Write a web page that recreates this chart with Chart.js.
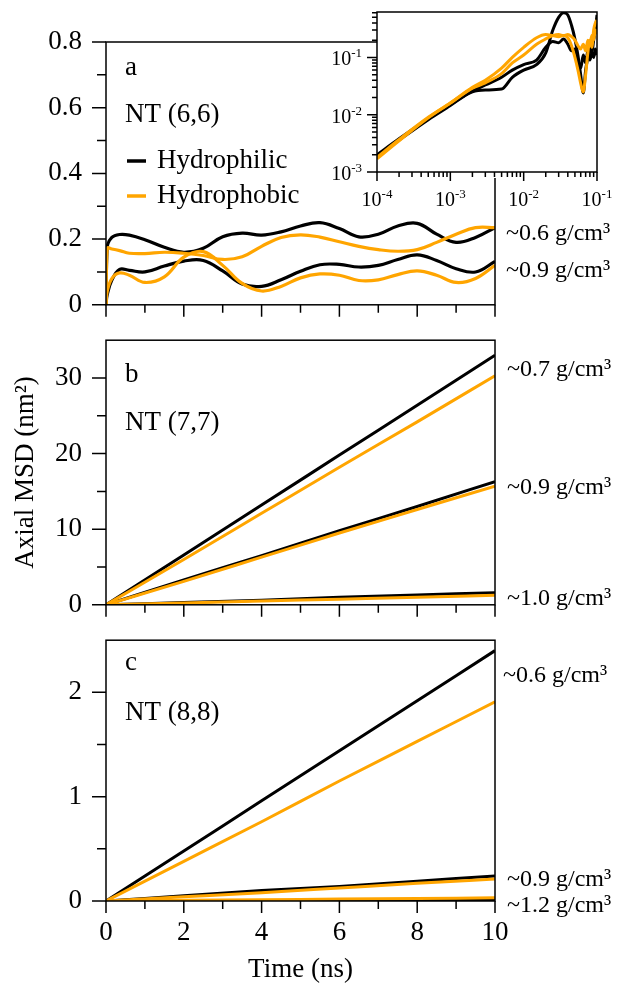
<!DOCTYPE html>
<html>
<head>
<meta charset="utf-8">
<script src="https://cdn.jsdelivr.net/npm/chart.js@4.4.1/dist/chart.umd.min.js"></script>
<style>
  html, body { margin: 0; padding: 0; background: #fff; }
  #wrap { position: relative; width: 617px; height: 983px; overflow: hidden; }
  canvas { position: absolute; }
</style>
</head>
<body>
<div id="wrap">
  <canvas id="panelA" width="617" height="345" style="left:0;top:0"></canvas>
  <canvas id="panelB" width="617" height="345" style="left:0;top:300px"></canvas>
  <canvas id="panelC" width="617" height="383" style="left:0;top:600px"></canvas>
  <canvas id="inset" width="317" height="235" style="left:300px;top:-20px"></canvas>
</div>
<script>
// series names and density labels
const seriesNames = ['Hydrophilic', 'Hydrophobic'];
const densityA = ['~0.6 g/cm³', '~0.9 g/cm³'];
const densityB = ['~0.7 g/cm³', '~0.9 g/cm³', '~1.0 g/cm³'];
const densityC = ['~0.6 g/cm³', '~0.9 g/cm³', '~1.2 g/cm³'];

// panel a: NT (6,6), time in ns
const timeA = [0, 0.03, 0.15, 0.35, 0.6, 1.0, 1.5, 2.0, 2.5, 3.0, 3.5, 4.0, 4.5, 5.0, 5.5, 6.0, 6.5, 7.0, 7.5, 8.0, 8.5, 9.0, 9.5, 10];
const philicA06 = [0, 0.175, 0.205, 0.214, 0.212, 0.198, 0.175, 0.16, 0.172, 0.207, 0.218, 0.212, 0.222, 0.24, 0.25, 0.232, 0.207, 0.215, 0.24, 0.248, 0.215, 0.19, 0.205, 0.235];
const phobicA06 = [0, 0.172, 0.17, 0.165, 0.157, 0.156, 0.16, 0.157, 0.15, 0.138, 0.146, 0.178, 0.205, 0.213, 0.206, 0.192, 0.178, 0.168, 0.163, 0.168, 0.19, 0.215, 0.235, 0.235];
const philicA09 = [0, 0.03, 0.075, 0.108, 0.105, 0.10, 0.118, 0.133, 0.135, 0.103, 0.063, 0.056, 0.076, 0.102, 0.122, 0.123, 0.115, 0.12, 0.138, 0.152, 0.135, 0.11, 0.1, 0.132];
const phobicA09 = [0, 0.04, 0.08, 0.097, 0.09, 0.068, 0.085, 0.145, 0.162, 0.12, 0.065, 0.042, 0.056, 0.082, 0.094, 0.09, 0.074, 0.076, 0.092, 0.103, 0.09, 0.068, 0.08, 0.12];

// panels b and c
const timeBC = [0, 2, 4, 6, 8, 10];
const philicB07 = [0, 6.6, 13.2, 19.8, 26.4, 33.0];
const phobicB07 = [0, 6.0, 12.1, 18.2, 24.2, 30.3];
const philicB09 = [0, 3.3, 6.5, 9.8, 13.0, 16.3];
const phobicB09 = [0, 3.1, 6.3, 9.5, 12.6, 15.7];
const philicB10 = [0, 0.3, 0.6, 1.0, 1.3, 1.6];
const phobicB10 = [0, 0.25, 0.5, 0.75, 1.0, 1.26];

const philicC06 = [0, 0.48, 0.96, 1.44, 1.92, 2.40];
const phobicC06 = [0, 0.38, 0.76, 1.15, 1.53, 1.91];
const philicC09 = [0, 0.05, 0.1, 0.14, 0.19, 0.24];
const phobicC09 = [0, 0.04, 0.08, 0.125, 0.17, 0.21];
const philicC12 = [0, 0.001, 0.002, 0.004, 0.005, 0.006];
const phobicC12 = [0, 0.006, 0.012, 0.018, 0.024, 0.03];

// inset: log-log, short times
const insetTime = [1e-4, 2e-4, 5e-4, 1e-3, 2e-3, 3e-3, 5e-3, 7e-3, 1e-2, 1.5e-2, 2e-2, 2.5e-2, 3e-2, 3.5e-2, 4e-2, 4.5e-2, 5e-2, 5.5e-2, 6e-2, 6.5e-2, 7e-2, 7.5e-2, 8e-2, 8.5e-2, 9e-2, 9.5e-2, 1e-1];
const insetPhilic1 = [0.002, 0.0038, 0.0085, 0.015, 0.025, 0.027, 0.028, 0.045, 0.06, 0.075, 0.12, 0.3, 0.5, 0.6, 0.55, 0.36, 0.21, 0.108, 0.049, 0.024, 0.06, 0.1, 0.15, 0.12, 0.2, 0.3, 0.55];
const insetPhilic2 = [0.0019, 0.0036, 0.0082, 0.0145, 0.026, 0.033, 0.045, 0.06, 0.075, 0.09, 0.15, 0.19, 0.18, 0.21, 0.17, 0.13, 0.14, 0.09, 0.065, 0.11, 0.08, 0.13, 0.09, 0.12, 0.1, 0.14, 0.11];
const insetPhobic1 = [0.0017, 0.0035, 0.0088, 0.016, 0.03, 0.04, 0.065, 0.1, 0.15, 0.22, 0.25, 0.24, 0.23, 0.24, 0.22, 0.16, 0.1, 0.06, 0.035, 0.025, 0.05, 0.12, 0.2, 0.15, 0.3, 0.4, 0.45];
const insetPhobic2 = [0.0018, 0.0037, 0.009, 0.016, 0.029, 0.036, 0.052, 0.08, 0.11, 0.17, 0.21, 0.24, 0.25, 0.24, 0.25, 0.23, 0.2, 0.16, 0.14, 0.17, 0.13, 0.2, 0.17, 0.24, 0.2, 0.3, 0.26];

const serif = '"Liberation Serif", "Times New Roman", serif';
const BLACK = '#000000';
const ORANGE = '#ffa500';

Chart.defaults.font.family = serif;
Chart.defaults.font.size = 27;
Chart.defaults.color = '#000';

function pairs(xs, ys) {
    return xs.map((x, i) => ({ x: x, y: ys[i] }));
}

function line(label, color, xs, ys, width, smooth) {
    const ds = {
        label: label,
        data: pairs(xs, ys),
        borderColor: color,
        borderWidth: width || 3,
        pointRadius: 0,
        fill: false
    };
    if (smooth) {
        ds.tension = smooth;
    } else {
        ds.cubicInterpolationMode = 'monotone';
    }
    return ds;
}

// box around the plot area plus outward major/minor ticks
const frame = {
    id: 'frame',
    afterDatasetsDraw(chart, args, o) {
        const { ctx, chartArea: a, scales } = chart;
        ctx.save();
        ctx.strokeStyle = '#000';
        ctx.lineWidth = 1.5;
        ctx.strokeRect(a.left, a.top, a.right - a.left, a.bottom - a.top);
        ctx.beginPath();
        const xTicks = (vals, len) => vals.forEach(v => {
            const p = scales.x.getPixelForValue(v);
            ctx.moveTo(p, a.bottom);
            ctx.lineTo(p, a.bottom + len);
        });
        const yTicks = (vals, len) => vals.forEach(v => {
            const p = scales.y.getPixelForValue(v);
            ctx.moveTo(a.left, p);
            ctx.lineTo(a.left - len, p);
        });
        xTicks(o.xMajor, o.xLen[0]);
        xTicks(o.xMinor, o.xLen[1]);
        yTicks(o.yMajor, o.yLen[0]);
        yTicks(o.yMinor, o.yLen[1]);
        ctx.stroke();
        ctx.restore();
    }
};

// panel letters, tube names, legend and density labels
const notes = {
    id: 'notes',
    afterDraw(chart, args, o) {
        const { ctx, chartArea: a } = chart;
        ctx.save();
        ctx.fillStyle = '#000';
        ctx.textBaseline = 'alphabetic';
        ctx.textAlign = 'left';
        (o.items || []).forEach(it => {
            const x = it.side === 'right' ? a.right + it.dx : a.left + it.dx;
            ctx.font = (it.size || 27) + 'px ' + serif;
            ctx.fillText(it.text, x, a.top + it.dy);
        });
        (o.legend || []).forEach(it => {
            ctx.strokeStyle = it.color;
            ctx.lineWidth = 3.5;
            ctx.beginPath();
            ctx.moveTo(a.left + 21, a.top + it.dy);
            ctx.lineTo(a.left + 40, a.top + it.dy);
            ctx.stroke();
            ctx.font = '27px ' + serif;
            ctx.fillText(it.text, a.left + 51, a.top + it.dy + 7);
        });
        ctx.restore();
    }
};

// "10" with a raised exponent for the log axes of the inset
const powLabels = {
    id: 'powLabels',
    afterDraw(chart, args, o) {
        const { ctx, chartArea: a, scales } = chart;
        ctx.save();
        ctx.fillStyle = '#000';
        ctx.textBaseline = 'alphabetic';
        ctx.textAlign = 'left';
        const draw = (v, px, py, align) => {
            const exp = String(Math.round(Math.log10(v)));
            ctx.font = o.size + 'px ' + serif;
            const w1 = ctx.measureText('10').width;
            ctx.font = o.expSize + 'px ' + serif;
            const w2 = ctx.measureText(exp).width;
            const left = align === 'center' ? px - (w1 + w2) / 2 : px - w1 - w2;
            ctx.font = o.size + 'px ' + serif;
            ctx.fillText('10', left, py);
            ctx.font = o.expSize + 'px ' + serif;
            ctx.fillText(exp, left + w1, py - o.raise);
        };
        o.xValues.forEach(v => draw(v, scales.x.getPixelForValue(v), a.bottom + o.xGap, 'center'));
        o.yValues.forEach(v => draw(v, a.left - o.yGap, scales.y.getPixelForValue(v) + 8, 'right'));
        ctx.restore();
    }
};

// white card behind the inset
const insetBg = {
    id: 'insetBg',
    beforeDraw(chart) {
        const { ctx, chartArea: a, width } = chart;
        ctx.save();
        ctx.fillStyle = '#fff';
        ctx.fillRect(a.left, 0, width - a.left, a.bottom + 6);
        ctx.restore();
    }
};

function panel(id, o) {
    return new Chart(document.getElementById(id), {
        type: 'line',
        data: { datasets: o.datasets },
        options: {
            responsive: false,
            animation: false,
            events: [],
            layout: { padding: { top: o.top, right: 122, left: 0, bottom: 0 } },
            plugins: {
                legend: { display: false },
                tooltip: { enabled: false },
                frame: {
                    xMajor: [0, 2, 4, 6, 8, 10], xMinor: [1, 3, 5, 7, 9],
                    yMajor: o.yMajor, yMinor: o.yMinor,
                    xLen: [12, 8], yLen: [14, 9]
                },
                notes: o.notes
            },
            scales: {
                x: {
                    type: 'linear', min: 0, max: 10,
                    grid: { display: false, drawTicks: false },
                    border: { display: false },
                    ticks: { display: !!o.xTitle, stepSize: 2, padding: 16 },
                    title: {
                        display: !!o.xTitle, text: o.xTitle || '',
                        font: { size: 27, lineHeight: 1 }, padding: { top: 0, bottom: 0 }
                    },
                    afterFit: s => { s.height = o.xHeight; }
                },
                y: {
                    type: 'linear', min: 0, max: o.yMax,
                    grid: { display: false, drawTicks: false },
                    border: { display: false },
                    ticks: { stepSize: o.yStep, padding: 24, includeBounds: false },
                    title: {
                        display: !!o.yTitle, text: o.yTitle || '',
                        font: { size: 27, lineHeight: 1 }, padding: { top: 12, bottom: 0 }
                    },
                    afterFit: s => { s.width = 106; }
                }
            }
        },
        plugins: [frame, notes]
    });
}

panel('panelA', {
    top: 42, xHeight: 34, yMax: 0.8, yStep: 0.2,
    yMajor: [0, 0.2, 0.4, 0.6, 0.8], yMinor: [0.1, 0.3, 0.5, 0.7],
    datasets: [
        line(seriesNames[1], ORANGE, timeA, phobicA06, 3.2, 0.4),
        line(seriesNames[1], ORANGE, timeA, phobicA09, 3.2, 0.4),
        line(seriesNames[0], BLACK, timeA, philicA06, 3.2, 0.4),
        line(seriesNames[0], BLACK, timeA, philicA09, 3.2, 0.4)
    ],
    notes: {
        items: [
            { text: 'a', dx: 19, dy: 33 },
            { text: 'NT (6,6)', dx: 19, dy: 80 },
            { text: densityA[0], side: 'right', dx: 11, dy: 198, size: 24 },
            { text: densityA[1], side: 'right', dx: 11, dy: 235, size: 24 }
        ],
        legend: [
            { text: seriesNames[0], color: BLACK, dy: 119 },
            { text: seriesNames[1], color: ORANGE, dy: 154 }
        ]
    }
});

panel('panelB', {
    top: 37, xHeight: 39, yMax: 35, yStep: 10,
    yMajor: [0, 10, 20, 30], yMinor: [5, 15, 25],
    yTitle: 'Axial MSD (nm²)',
    datasets: [
        line(seriesNames[1], ORANGE, timeBC, phobicB07),
        line(seriesNames[1], ORANGE, timeBC, phobicB09),
        line(seriesNames[1], ORANGE, timeBC, phobicB10),
        line(seriesNames[0], BLACK, timeBC, philicB07),
        line(seriesNames[0], BLACK, timeBC, philicB09),
        line(seriesNames[0], BLACK, timeBC, philicB10)
    ],
    notes: {
        items: [
            { text: 'b', dx: 19, dy: 42 },
            { text: 'NT (7,7)', dx: 19, dy: 90 },
            { text: densityB[0], side: 'right', dx: 12, dy: 36, size: 24 },
            { text: densityB[1], side: 'right', dx: 12, dy: 154, size: 24 },
            { text: densityB[2], side: 'right', dx: 12, dy: 265, size: 24 }
        ]
    }
});

panel('panelC', {
    top: 33, xHeight: 82, yMax: 2.5, yStep: 1,
    yMajor: [0, 1, 2], yMinor: [0.5, 1.5],
    xTitle: 'Time (ns)',
    datasets: [
        line(seriesNames[1], ORANGE, timeBC, phobicC06),
        line(seriesNames[1], ORANGE, timeBC, phobicC09),
        line(seriesNames[1], ORANGE, timeBC, phobicC12),
        line(seriesNames[0], BLACK, timeBC, philicC06),
        line(seriesNames[0], BLACK, timeBC, philicC09),
        line(seriesNames[0], BLACK, timeBC, philicC12)
    ],
    notes: {
        items: [
            { text: 'c', dx: 19, dy: 30 },
            { text: 'NT (8,8)', dx: 19, dy: 80 },
            { text: densityC[0], side: 'right', dx: 8, dy: 42, size: 24 },
            { text: densityC[1], side: 'right', dx: 12, dy: 246, size: 24 },
            { text: densityC[2], side: 'right', dx: 12, dy: 272, size: 24 }
        ]
    }
});

// minor log ticks: 2..9 within each decade
function logMinor(fromExp, toExp, limit) {
    const out = [];
    for (let e = fromExp; e <= toExp; e++) {
        for (let m = 2; m <= 9; m++) {
            const v = m * Math.pow(10, e);
            if (v <= limit) out.push(v);
        }
    }
    return out;
}

new Chart(document.getElementById('inset'), {
    type: 'line',
    data: {
        datasets: [
            line(seriesNames[1], ORANGE, insetTime, insetPhobic1, 3),
            line(seriesNames[1], ORANGE, insetTime, insetPhobic2, 3),
            line(seriesNames[0], BLACK, insetTime, insetPhilic1, 3),
            line(seriesNames[0], BLACK, insetTime, insetPhilic2, 3)
        ]
    },
    options: {
        responsive: false,
        animation: false,
        events: [],
        layout: { padding: { top: 32, right: 20, left: 0, bottom: 0 } },
        plugins: {
            legend: { display: false },
            tooltip: { enabled: false },
            frame: {
                xMajor: [1e-4, 1e-3, 1e-2, 1e-1], xMinor: logMinor(-4, -2, 0.1),
                yMajor: [1e-3, 1e-2, 1e-1], yMinor: logMinor(-3, -1, 0.62),
                xLen: [9, 5], yLen: [10, 5]
            },
            powLabels: {
                size: 20, expSize: 13, raise: 8, xGap: 34, yGap: 15,
                xValues: [1e-4, 1e-3, 1e-2, 1e-1], yValues: [1e-3, 1e-2, 1e-1]
            }
        },
        scales: {
            x: {
                type: 'logarithmic', min: 1e-4, max: 1e-1,
                grid: { display: false, drawTicks: false },
                border: { display: false },
                ticks: { display: false },
                afterFit: s => { s.height = 43; }
            },
            y: {
                type: 'logarithmic', min: 1e-3, max: 0.62,
                grid: { display: false, drawTicks: false },
                border: { display: false },
                ticks: { display: false },
                afterFit: s => { s.width = 77; }
            }
        }
    },
    plugins: [insetBg, frame, powLabels]
});
</script>
</body>
</html>
